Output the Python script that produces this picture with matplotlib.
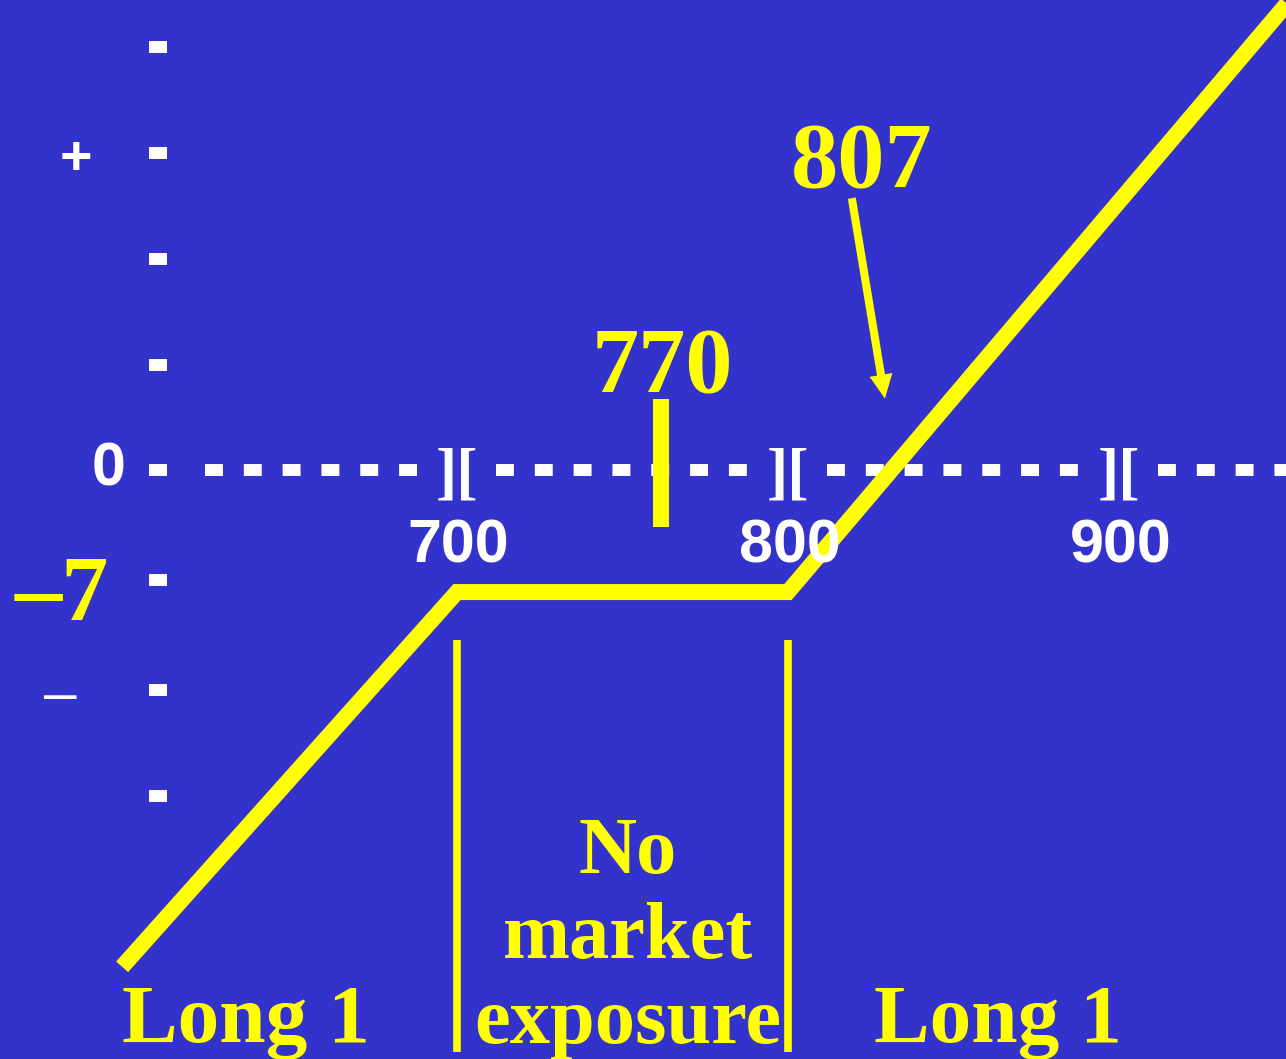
import matplotlib.pyplot as plt

BG = "#3333cc"
YELLOW = "#ffff00"
WHITE = "#ffffff"
SERIF = "Liberation Serif"
SANS = "Liberation Sans"

# payoff of the position (schematic)
payoff_x = [598.8, 700, 800, 955]
payoff_y = [-28.5, -7, -7, 27.7]

# price axis
strikes = [700, 800, 900]
strike_labels = ["700", "800", "900"]
zero_line_start = 623.9
zero_line_end = 952.0

# y tick marks on the left
ytick_vals = [24.3, 18.2, 12.1, 6.0, 0, -6.3, -12.6, -18.7]

# marked points
low_label = "770"
low_x = 761.5
high_label = "807"
high_arrow_tail = (819.3, 15.6)
high_arrow_tip = (829.3, 4.1)

region_labels = ["Long 1", ["No", "market", "exposure"], "Long 1"]
region_centers = [636.3, 751.7, 863.4]

fig = plt.figure(figsize=(12.86, 10.59), dpi=100, facecolor=BG)
ax = fig.add_axes([0, 0, 1, 1])
ax.set_facecolor(BG)
ax.set_xlim(561.9, 950.5)
ax.set_ylim(-33.79, 26.97)
ax.axis("off")

# y tick marks
ax.hlines(ytick_vals, 606.9, 612.4, color=WHITE, lw=8.6)

# dashed zero line, broken at each strike by "]["
gap = 11.8
edges = [zero_line_start] + [v for s in strikes for v in (s - gap, s + gap)] + [zero_line_end]
for x0, x1 in zip(edges[::2], edges[1::2]):
    ax.plot([x0, x1], [0, 0], color=WHITE, lw=8.6, linestyle=(0, (1.5, 1.75)),
            dash_capstyle="butt")
for s, lab in zip(strikes, strike_labels):
    ax.text(s, -0.35, "][", color=WHITE, fontsize=46, fontweight="bold",
            family=SERIF, ha="center", va="center")
    ax.text(s + 0.5, -4.4, lab, color=WHITE, fontsize=44, fontweight="bold",
            family=SANS, ha="center", va="center")

# y labels
ax.text(594.6, 0, "0", color=WHITE, fontsize=44, fontweight="bold", family=SANS,
        ha="center", va="center")
ax.text(584.9, 17.8, "+", color=WHITE, fontsize=40, fontweight="bold", family=SANS,
        ha="center", va="center")
ax.text(580.1, -13.0, "\u2013", color=WHITE, fontsize=42, family=SANS,
        ha="center", va="center")
ax.text(580.7, -8.6, "\u20137", color=YELLOW, fontsize=68, fontweight="bold",
        family=SERIF, ha="center", va="baseline")

# region boundaries
ax.vlines(strikes[:2], -33.4, -9.75, color=YELLOW, lw=5.5)

# payoff line
ax.plot(payoff_x, payoff_y, color=YELLOW, lw=11.5, solid_capstyle="butt",
        solid_joinstyle="miter")

# 770 marker
ax.vlines(low_x, -3.27, 4.07, color=YELLOW, lw=11.5)
ax.text(762.2, 4.47, low_label, color=YELLOW, fontsize=68, fontweight="bold",
        family=SERIF, ha="center", va="baseline")

# 807 with arrow
ax.text(822.4, 16.24, high_label, color=YELLOW, fontsize=68, fontweight="bold",
        family=SERIF, ha="center", va="baseline")
ax.annotate("", xy=high_arrow_tip, xytext=high_arrow_tail,
            arrowprops=dict(facecolor=YELLOW, edgecolor="none", width=5.8,
                            headwidth=16.6, headlength=17.3, shrink=0))

# region labels
for lab, cx in zip(region_labels, region_centers):
    if isinstance(lab, list):
        for i, line in enumerate(lab):
            ax.text(cx, -23.1 - 4.9 * i, line, color=YELLOW, fontsize=58,
                    fontweight="bold", family=SERIF, ha="center", va="baseline")
    else:
        ax.text(cx, -32.8, lab, color=YELLOW, fontsize=60, fontweight="bold",
                family=SERIF, ha="center", va="baseline")

fig.savefig("out.png", dpi=100, facecolor=BG)
